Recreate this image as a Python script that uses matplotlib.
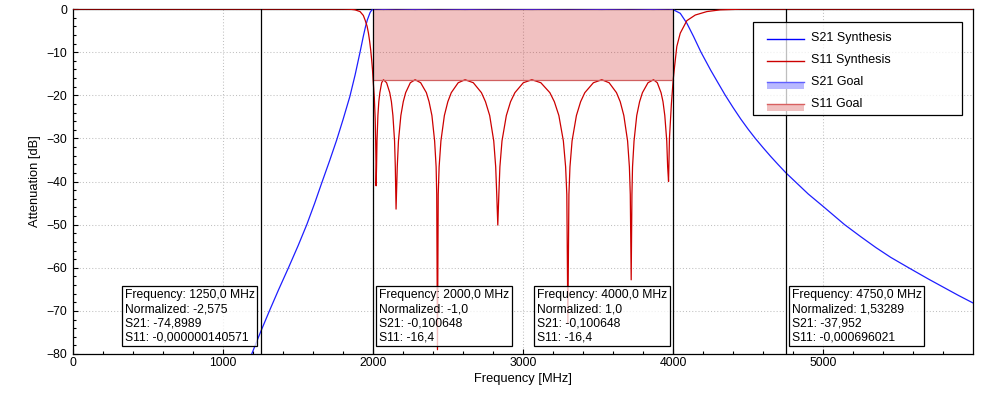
import matplotlib
matplotlib.use("Agg")
import matplotlib.pyplot as plt
from matplotlib.legend_handler import HandlerBase
from matplotlib.patches import Rectangle
from matplotlib.lines import Line2D
from matplotlib.ticker import MultipleLocator

plt.rcParams['font.family'] = ['Liberation Sans', 'DejaVu Sans']

# ---------------- data ----------------
s21_freq = [1150, 1191, 1250, 1309, 1370, 1436, 1500, 1558, 1610, 1658, 1710, 1758, 1800, 1845,
            1880, 1913, 1935, 1950, 1962, 1980, 1992, 2000,
            2020, 2069, 2153, 2280, 2429, 2613, 2831, 3058, 3298, 3524, 3720, 3869, 3969, 4000,
            4008, 4047, 4091, 4136, 4185, 4250, 4300, 4347, 4400, 4450, 4500, 4547, 4600, 4650,
            4700, 4750, 4800, 4900, 5000, 5142, 5250, 5350, 5450, 5569, 5700, 5800, 5900, 6000]
s21_db = [-83.5, -80, -74.9, -70, -65.1, -60, -54.9, -50, -45.1, -40.3, -35.2, -30.3, -25.6, -20.3,
          -15.3, -10, -6.3, -4.0, -2.5, -0.8, -0.2, -0.1,
          0, -0.1, 0, -0.1, 0, -0.1, 0, -0.1, 0, -0.1, 0, -0.1, 0, -0.1,
          -0.3, -1.0, -3.3, -6.4, -10, -14.2, -17.2, -20, -22.9, -25.5, -27.9, -30, -32.2, -34.2,
          -36.1, -37.95, -39.6, -42.9, -45.8, -50, -52.8, -55.3, -57.6, -60, -62.6, -64.5, -66.4, -68.2]

s11_freq = [0, 1700, 1800, 1850, 1880, 1913, 1935, 1947, 1960, 1969, 1977, 1984, 1991, 1996, 2000,
            2008, 2014, 2017, 2019, 2020,
            2023, 2026, 2032, 2038, 2045, 2057, 2069, 2090, 2111, 2122, 2132, 2143, 2148, 2153,
            2161, 2169, 2185, 2201, 2217, 2248, 2280, 2317, 2355, 2373, 2392, 2410, 2420, 2424, 2429,
            2434, 2440, 2452, 2475, 2498, 2521, 2567, 2613, 2668, 2722, 2749, 2777, 2804, 2817, 2824, 2831,
            2838, 2845, 2859, 2888, 2916, 2945, 3001, 3058, 3118, 3178, 3208, 3238, 3268, 3283, 3291, 3298,
            3305, 3312, 3326, 3355, 3383, 3411, 3468, 3524, 3573, 3622, 3647, 3671, 3696, 3708, 3714, 3720,
            3725, 3729, 3739, 3757, 3776, 3795, 3832, 3869, 3894, 3919, 3932, 3944, 3957, 3963, 3969,
            3975, 3988, 4000, 4009, 4024, 4047, 4091, 4147, 4224, 4313, 4450, 4600, 6000]
s11_db = [0, 0, -0.01, -0.06, -0.2, -0.6, -1.5, -2.6, -4.0, -5.6, -7.5, -9.5, -12.0, -14.1, -16.4,
          -20.5, -25.5, -30.5, -35.5, -41.0,
          -36.6, -30.6, -24.7, -21.5, -19.4, -17.1, -16.4, -17.1, -19.4, -21.5, -24.7, -30.6, -36.6, -46.4,
          -36.6, -30.6, -24.7, -21.5, -19.4, -17.1, -16.4, -17.1, -19.4, -21.5, -24.7, -30.6, -36.6, -43.0, -79.0,
          -43.0, -36.6, -30.6, -24.7, -21.5, -19.4, -17.1, -16.4, -17.1, -19.4, -21.5, -24.7, -30.6, -36.6, -43.0, -50.1,
          -43.0, -36.6, -30.6, -24.7, -21.5, -19.4, -17.1, -16.4, -17.1, -19.4, -21.5, -24.7, -30.6, -36.6, -43.0, -72.8,
          -43.0, -36.6, -30.6, -24.7, -21.5, -19.4, -17.1, -16.4, -17.1, -19.4, -21.5, -24.7, -30.6, -36.6, -43.0, -62.8,
          -43.0, -36.6, -30.6, -24.7, -21.5, -19.4, -17.1, -16.4, -17.1, -19.4, -21.5, -24.7, -30.6, -36.6, -40.0,
          -30.0, -22.0, -16.4, -13.4, -8.7, -5.6, -2.7, -1.4, -0.6, -0.2, -0.05, -0.01, 0]

goal_band = [2000, 4000]
s11_goal = -16.4
s21_goal = -0.1

marker_freq = [1250, 2000, 4000, 4750]
marker_text = [
    "Frequency: 1250,0 MHz\nNormalized: -2,575\nS21: -74,8989\nS11: -0,000000140571",
    "Frequency: 2000,0 MHz\nNormalized: -1,0\nS21: -0,100648\nS11: -16,4",
    "Frequency: 4000,0 MHz\nNormalized: 1,0\nS21: -0,100648\nS11: -16,4",
    "Frequency: 4750,0 MHz\nNormalized: 1,53289\nS21: -37,952\nS11: -0,000696021",
]
marker_side = ['left', 'right', 'left', 'right']

legend_labels = ["S21 Synthesis", "S11 Synthesis", "S21 Goal", "S11 Goal"]

# ---------------- styling ----------------
C_S21 = '#1e1eff'
C_S11 = '#cc0000'

fig = plt.figure(figsize=(9.81, 3.98), dpi=100)
ax = fig.add_axes([73 / 981, 1 - 354 / 398, 900 / 981, 345 / 398])

ax.set_xlim(0, 5998)
ax.set_ylim(-80, 0)

ax.xaxis.set_major_locator(MultipleLocator(1000))
ax.xaxis.set_minor_locator(MultipleLocator(200))
ax.yaxis.set_major_locator(MultipleLocator(10))
ax.yaxis.set_minor_locator(MultipleLocator(2))
ax.grid(True, which='major', color='#c0c0c0', linestyle=(0, (1, 2)), linewidth=0.75, zorder=0)
ax.set_axisbelow(True)

ax.tick_params(which='both', direction='in', top=False, right=False, labelsize=8.8, color='black')
ax.tick_params(which='major', length=3.8, width=0.8)
ax.tick_params(which='minor', length=2.4, width=0.8)
ax.tick_params(axis='y', pad=4)
ax.tick_params(axis='x', pad=2)
for sp in ax.spines.values():
    sp.set_linewidth(0.9)
    sp.set_color('black')

# curves
ax.plot(s21_freq, s21_db, color=C_S21, lw=0.9, zorder=3)
ax.fill_between(goal_band, [0, 0], [s21_goal, s21_goal], color='#3030ff', alpha=0.3, lw=0, zorder=3)
ax.plot(s11_freq, s11_db, color=C_S11, lw=0.9, zorder=3)
ax.fill_between(goal_band, [0, 0], [s11_goal, s11_goal], color=(0.8, 0.1, 0.1), alpha=0.27,
                lw=0, zorder=4)
ax.plot(goal_band, [s11_goal, s11_goal], color='#d06060', lw=0.9, zorder=4)

# markers
for f in marker_freq:
    ax.axvline(f, color='black', lw=0.9, zorder=5)
for f, txt, side in zip(marker_freq, marker_text, marker_side):
    if side == 'right':
        off, ha = 6, 'left'
    else:
        off, ha = -6, 'right'
    ax.annotate(txt, xy=(f, 0), xycoords=('data', 'axes fraction'),
                xytext=(off, 11), textcoords='offset pixels', ha=ha, va='bottom',
                multialignment='left', fontsize=8.7, linespacing=1.22, zorder=6,
                bbox=dict(boxstyle='square,pad=0.22', fc=(1, 1, 1, 0.75), ec='black', lw=0.9))

ax.set_xlabel("Frequency [MHz]", fontsize=9.3, labelpad=3)
ax.set_ylabel("Attenuation [dB]", fontsize=9.3, labelpad=4)


# legend
class GoalHandler(HandlerBase):
    def __init__(self, line_color, fill_color):
        super().__init__()
        self.lc = line_color
        self.fc = fill_color

    def create_artists(self, legend, orig_handle, xdescent, ydescent, width, height, fontsize, trans):
        y0 = -ydescent - 0.45 * height
        y1 = -ydescent + 0.3 * height
        rect = Rectangle((-xdescent, y0), width, y1 - y0, facecolor=self.fc, edgecolor='none',
                         transform=trans)
        line = Line2D([-xdescent, -xdescent + width], [y1, y1], color=self.lc, lw=1.0,
                      transform=trans)
        return [rect, line]


class LineLowHandler(HandlerBase):
    def __init__(self, color):
        super().__init__()
        self.c = color

    def create_artists(self, legend, orig_handle, xdescent, ydescent, width, height, fontsize, trans):
        y = -ydescent + 0.2 * height
        return [Line2D([-xdescent, -xdescent + width], [y, y], color=self.c, lw=1.0, transform=trans)]


class Key:
    pass


h_s21, h_s11, h_g21, h_g11 = Key(), Key(), Key(), Key()
frame = Rectangle((0.7556, 0.693), 0.2322, 0.269, transform=ax.transAxes, facecolor=(1, 1, 1, 0.75),
                  edgecolor='black', lw=0.9, zorder=7)
ax.add_patch(frame)
leg = ax.legend([h_s21, h_s11, h_g21, h_g11], legend_labels,
                handler_map={h_s21: LineLowHandler('#0000ff'),
                             h_s11: LineLowHandler(C_S11),
                             h_g21: GoalHandler('#6060ff', '#b8b8ff'),
                             h_g11: GoalHandler('#d86060', '#f0c0c0')},
                loc='upper left', bbox_to_anchor=(0.7667, 0.945), bbox_transform=ax.transAxes,
                frameon=False, fontsize=9, handlelength=2.95, handletextpad=0.6,
                labelspacing=0.8, borderpad=0.3, borderaxespad=0)
leg.set_zorder(8)

fig.savefig("out.png", dpi=100)
